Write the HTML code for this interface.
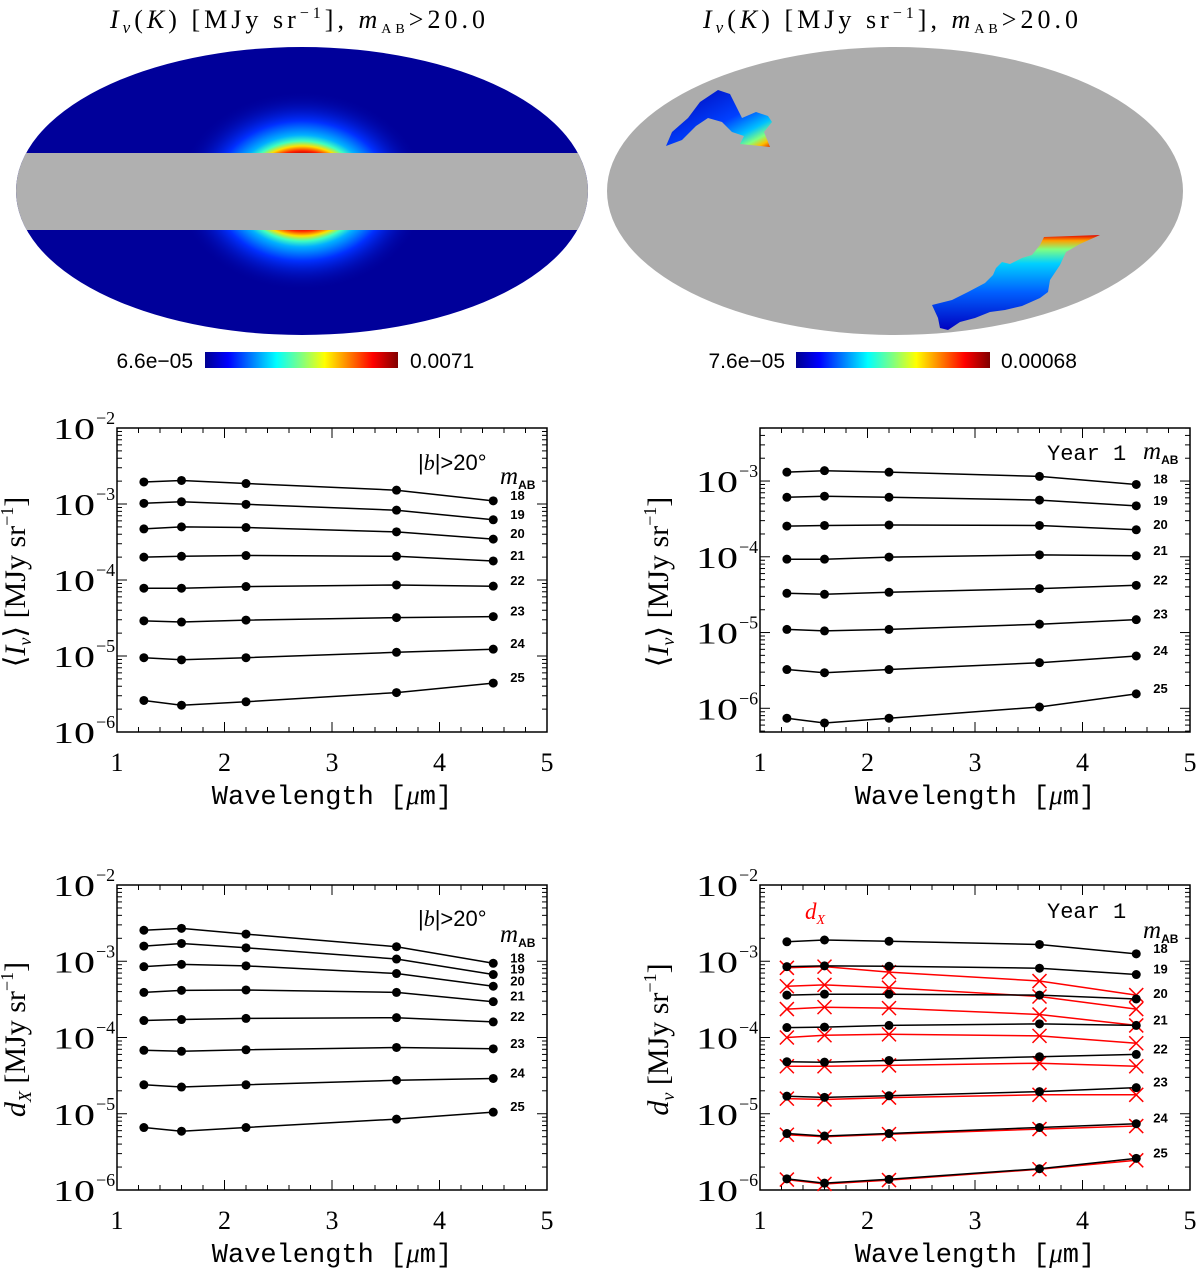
<!DOCTYPE html>
<html><head><meta charset="utf-8">
<style>
html,body{margin:0;padding:0;background:#fff;}
svg{display:block;font-family:"Liberation Serif",serif;}
</style></head>
<body>
<svg id="fig" width="1200" height="1271" viewBox="0 0 1200 1271" xmlns="http://www.w3.org/2000/svg">
<defs>
<linearGradient id="jet" x1="0" x2="1" y1="0" y2="0">
<stop offset="0" stop-color="#00008f"/><stop offset="0.12" stop-color="#0000ff"/><stop offset="0.37" stop-color="#00ffff"/><stop offset="0.5" stop-color="#80ff80"/><stop offset="0.62" stop-color="#ffff00"/><stop offset="0.87" stop-color="#ff0000"/><stop offset="1" stop-color="#800000"/>
</linearGradient>
<radialGradient id="glow" cx="302" cy="191" r="1" gradientUnits="userSpaceOnUse" gradientTransform="translate(302 191) scale(125 100) translate(-302 -191)">
<stop offset="0" stop-color="#800000"/><stop offset="0.36" stop-color="#a00000"/><stop offset="0.4" stop-color="#ff2000"/><stop offset="0.45" stop-color="#ffe000"/><stop offset="0.5" stop-color="#40ffc0"/><stop offset="0.56" stop-color="#00b0ff"/><stop offset="0.7" stop-color="#0030ff"/><stop offset="1" stop-color="#00009a" stop-opacity="0"/>
</radialGradient>
<clipPath id="ellL"><ellipse cx="302" cy="191" rx="286" ry="144"/></clipPath>
<linearGradient id="b1g" x1="0" y1="0" x2="1" y2="1">
<stop offset="0" stop-color="#0000b0"/><stop offset="0.55" stop-color="#0040ff"/><stop offset="0.75" stop-color="#00c0ff"/><stop offset="0.86" stop-color="#80ff80"/><stop offset="0.93" stop-color="#ffc000"/><stop offset="1" stop-color="#e02000"/>
</linearGradient>
<linearGradient id="b2g" x1="0" y1="0" x2="0" y2="1">
<stop offset="0" stop-color="#e00000"/><stop offset="0.06" stop-color="#ffa000"/><stop offset="0.15" stop-color="#80ff80"/><stop offset="0.3" stop-color="#00d0ff"/><stop offset="0.6" stop-color="#0060ff"/><stop offset="1" stop-color="#0000c0"/>
</linearGradient>
</defs>

<!-- Left map -->
<g>
<text x="110" y="28" font-size="26" textLength="375" lengthAdjust="spacing"><tspan font-style="italic">I</tspan><tspan font-style="italic" font-size="17" dy="5">ν</tspan><tspan dy="-5">(</tspan><tspan font-style="italic">K</tspan>) [MJy sr<tspan font-size="16" dy="-10">−1</tspan><tspan dy="10">], </tspan><tspan font-style="italic">m</tspan><tspan font-size="14" dy="5">AB</tspan><tspan dy="-5">&gt;20.0</tspan></text>
<ellipse cx="302" cy="191" rx="286" ry="144" fill="#00009a"/>
<g clip-path="url(#ellL)">
<rect x="0" y="40" width="600" height="300" fill="url(#glow)"/>
<rect x="0" y="153" width="600" height="77" fill="#b0b0b0"/>
</g>
<rect x="205" y="352" width="193" height="16" fill="url(#jet)"/>
<text x="193" y="368" font-size="21" text-anchor="end" font-family="Liberation Sans, sans-serif">6.6e−05</text>
<text x="410" y="368" font-size="21" font-family="Liberation Sans, sans-serif">0.0071</text>
</g>

<!-- Right map -->
<g>
<text x="703" y="28" font-size="26" textLength="375" lengthAdjust="spacing"><tspan font-style="italic">I</tspan><tspan font-style="italic" font-size="17" dy="5">ν</tspan><tspan dy="-5">(</tspan><tspan font-style="italic">K</tspan>) [MJy sr<tspan font-size="16" dy="-10">−1</tspan><tspan dy="10">], </tspan><tspan font-style="italic">m</tspan><tspan font-size="14" dy="5">AB</tspan><tspan dy="-5">&gt;20.0</tspan></text>
<ellipse cx="895" cy="191" rx="288" ry="144" fill="#acacac"/>
<path d="M666,146 L672,132 L688,118 L700,102 L718,90 L730,94 L737,108 L742,118 L756,112 L768,116 L772,122 L764,132 L770,147 L740,144 L744,136 L732,132 L722,122 L708,118 L696,126 L682,140 Z" fill="url(#b1g)"/>
<path d="M1040,245 L1044,237 L1100,235 L1080,244 L1066,252 L1060,265 L1050,280 L1048,292 L1040,298 L1022,306 L1005,310 L990,312 L975,318 L960,322 L948,330 L940,328 L938,318 L932,305 L952,300 L968,292 L985,283 L993,275 L996,268 L1002,262 L1010,264 L1022,258 L1032,255 Z" fill="url(#b2g)"/>
<rect x="796" y="352" width="194" height="16" fill="url(#jet)"/>
<text x="785" y="368" font-size="21" text-anchor="end" font-family="Liberation Sans, sans-serif">7.6e−05</text>
<text x="1001" y="368" font-size="21" font-family="Liberation Sans, sans-serif">0.00068</text>
</g>
<g id="plots"></g>
</svg>
<script>
const wavelengths = [1.25, 1.6, 2.2, 3.6, 4.5];
const magLabels = ["18","19","20","21","22","23","24","25"];
const xTicks = [1,2,3,4,5];

const intensityAll = [
 [1.95e-3,2.04e-3,1.86e-3,1.52e-3,1.10e-3],
 [1.02e-3,1.07e-3,0.99e-3,0.83e-3,0.62e-3],
 [4.7e-4,5.0e-4,4.9e-4,4.3e-4,3.45e-4],
 [2.0e-4,2.05e-4,2.1e-4,2.05e-4,1.78e-4],
 [7.8e-5,7.8e-5,8.2e-5,8.6e-5,8.3e-5],
 [2.9e-5,2.8e-5,2.97e-5,3.2e-5,3.3e-5],
 [9.5e-6,8.9e-6,9.5e-6,1.12e-5,1.23e-5],
 [2.6e-6,2.25e-6,2.5e-6,3.3e-6,4.4e-6]
];
const intensityYear1 = [
 [1.31e-3,1.37e-3,1.31e-3,1.15e-3,0.90e-3],
 [6.1e-4,6.3e-4,6.1e-4,5.6e-4,4.7e-4],
 [2.54e-4,2.59e-4,2.63e-4,2.59e-4,2.27e-4],
 [9.3e-5,9.3e-5,9.9e-5,1.06e-4,1.03e-4],
 [3.3e-5,3.2e-5,3.4e-5,3.8e-5,4.2e-5],
 [1.1e-5,1.05e-5,1.1e-5,1.29e-5,1.48e-5],
 [3.25e-6,2.95e-6,3.25e-6,4.0e-6,4.9e-6],
 [7.4e-7,6.4e-7,7.4e-7,1.04e-6,1.55e-6]
];
const fluctAll = [
 [2.55e-3,2.7e-3,2.27e-3,1.55e-3,0.94e-3],
 [1.58e-3,1.71e-3,1.5e-3,1.07e-3,0.67e-3],
 [8.5e-4,9.1e-4,8.7e-4,6.9e-4,4.7e-4],
 [3.9e-4,4.15e-4,4.2e-4,3.9e-4,2.95e-4],
 [1.67e-4,1.72e-4,1.78e-4,1.82e-4,1.6e-4],
 [6.8e-5,6.6e-5,6.9e-5,7.4e-5,7.1e-5],
 [2.4e-5,2.24e-5,2.4e-5,2.75e-5,2.9e-5],
 [6.6e-6,5.9e-6,6.6e-6,8.5e-6,1.05e-5]
];
const fluctYear1 = [
 [1.8e-3,1.9e-3,1.83e-3,1.66e-3,1.25e-3],
 [8.5e-4,8.7e-4,8.6e-4,8.1e-4,6.7e-4],
 [3.6e-4,3.7e-4,3.7e-4,3.6e-4,3.2e-4],
 [1.35e-4,1.37e-4,1.44e-4,1.51e-4,1.44e-4],
 [4.8e-5,4.75e-5,5.0e-5,5.6e-5,6.0e-5],
 [1.7e-5,1.64e-5,1.72e-5,1.95e-5,2.2e-5],
 [5.5e-6,5.1e-6,5.5e-6,6.6e-6,7.4e-6],
 [1.4e-6,1.23e-6,1.38e-6,1.9e-6,2.6e-6]
];
const fluctYear1X = [
 [8.2e-4,8.5e-4,7.2e-4,5.5e-4,3.6e-4],
 [4.7e-4,4.9e-4,4.5e-4,3.45e-4,2.36e-4],
 [2.36e-4,2.5e-4,2.43e-4,2.0e-4,1.44e-4],
 [1.0e-4,1.07e-4,1.1e-4,1.05e-4,8.4e-5],
 [4.2e-5,4.2e-5,4.3e-5,4.6e-5,4.2e-5],
 [1.58e-5,1.54e-5,1.63e-5,1.77e-5,1.77e-5],
 [5.3e-6,5.0e-6,5.4e-6,6.3e-6,6.9e-6],
 [1.37e-6,1.2e-6,1.35e-6,1.87e-6,2.45e-6]
];

const NS = "http://www.w3.org/2000/svg";
const root = document.getElementById('plots');
function mk(tag, attrs, parent, txt){
  const e = document.createElementNS(NS, tag);
  for (const k in attrs) e.setAttribute(k, attrs[k]);
  if (txt !== undefined) e.textContent = txt;
  (parent||root).appendChild(e);
  return e;
}

function plot(cfg){
  const g = mk('g', {});
  
  
  const L=cfg.left, R=cfg.right, T=cfg.top, B=cfg.bottom;
  const xs = v => L + (v-1)/(5-1)*(R-L);
  const ys = v => T + (cfg.ymax - Math.log10(v))/(cfg.ymax-cfg.ymin)*(B-T);
  const box = mk('rect',{x:L,y:T,width:R-L,height:B-T,fill:'none',stroke:'#000','stroke-width':1.5},g);
  
  
  for (let v=1; v<=5.001; v+=0.2){
    const major = Math.abs(v-Math.round(v))<1e-6;
    const len = major?10:5, x=xs(v);
    mk('line',{x1:x,x2:x,y1:B,y2:B-len,stroke:'#000','stroke-width':1},g);
    mk('line',{x1:x,x2:x,y1:T,y2:T+len,stroke:'#000','stroke-width':1},g);
  }
  xTicks.forEach(v=>{
    const t = mk('text',{x:xs(v),y:B+39,'font-size':26,'text-anchor':'middle'},g,String(v));
    
    
  });
  for (let d=Math.floor(cfg.ymin); d<=Math.ceil(cfg.ymax); d++){
    for (let m=1; m<10; m++){
      const lv = d + Math.log10(m);
      if (lv < cfg.ymin-1e-6 || lv > cfg.ymax+1e-6) continue;
      const y = T + (cfg.ymax-lv)/(cfg.ymax-cfg.ymin)*(B-T);
      const len = m===1?10:5;
      mk('line',{x1:L,x2:L+len,y1:y,y2:y,stroke:'#000','stroke-width':1},g);
      mk('line',{x1:R,x2:R-len,y1:y,y2:y,stroke:'#000','stroke-width':1},g);
      if (m===1){
        const t = mk('text',{x:L-22,y:y+11,'font-size':31,'text-anchor':'end','textLength':42,'lengthAdjust':'spacingAndGlyphs'},g,'10');
        
        
        mk('text',{x:L-21,y:y-4,'font-size':18,'text-anchor':'start'},g,'−'+(-d));
      }
    }
  }
  const xt = mk('text',{x:(L+R)/2,y:B+72,'font-size':27,'text-anchor':'middle','font-family':'Liberation Mono, monospace'},g);
  
  
  xt.innerHTML = 'Wavelength [<tspan font-family="Liberation Serif, serif" font-style="italic">μ</tspan>m]';
  const cy=(T+B)/2+2, cx=L-92;
  const ytl = mk('text',{x:cx,y:cy,'font-size':30,'text-anchor':'middle',transform:`rotate(-90 ${cx} ${cy})`},g);
  
  
  ytl.innerHTML = cfg.ytitle;
  function drawSeries(data, color, marker, sname){
    data.forEach((row,i)=>{
      const pts = row.map((v,j)=>xs(wavelengths[j]).toFixed(1)+','+ys(v).toFixed(1)).join(' ');
      const pl = mk('polyline',{points:pts,fill:'none',stroke:color,'stroke-width':1.5},g);
      
      
      row.forEach((v,j)=>{
        const x=xs(wavelengths[j]), y=ys(v);
        if (marker==='dot'){
          const c = mk('circle',{cx:x,cy:y,r:4.5,fill:color},g);
          
          
        } else {
          const s=7;
          const p = mk('path',{d:`M${x-s},${y-s}L${x+s},${y+s}M${x-s},${y+s}L${x+s},${y-s}`,stroke:color,'stroke-width':1.5,fill:'none'},g);
          
          
        }
      });
    });
  }
  if (cfg.red) drawSeries(cfg.red,'#ff0000','x','dx');
  drawSeries(cfg.data,'#000','dot','main');
  cfg.data.forEach((row,i)=>{
    const t = mk('text',{x:xs(wavelengths[4])+17,y:ys(row[4])-1,'font-size':13,'font-weight':'bold','font-family':'Liberation Sans, sans-serif'},g,magLabels[i]);
    
    
  });
  const mh = mk('text',{x:R-47,y:cfg.mabY,'font-size':25,'font-style':'italic'},g);
  
  
  mh.innerHTML = 'm<tspan font-size="12" font-style="normal" font-weight="bold" font-family="Liberation Sans, sans-serif" dy="5">AB</tspan>';
  const an = mk('text',{x:cfg.annX,y:cfg.annY,'font-size':22,'font-family':cfg.annMono?'Liberation Mono, monospace':'Liberation Sans, sans-serif'},g);
  
  
  an.innerHTML = cfg.ann;
  if (cfg.red){
    const dl = mk('text',{x:L+45,y:T+34,'font-size':23,'font-style':'italic',fill:'#ff0000'},g);
    
    
    dl.innerHTML = 'd<tspan font-size="14" dy="5">X</tspan>';
  }
}

const YT_I = '⟨<tspan font-style="italic">I</tspan><tspan font-style="italic" font-size="18" dy="6">ν</tspan><tspan dy="-6">⟩ [MJy sr</tspan><tspan font-size="18" dy="-12">−1</tspan><tspan dy="12">]</tspan>';
const YT_DX = '<tspan font-style="italic">d</tspan><tspan font-style="italic" font-size="18" dy="6">X</tspan><tspan dy="-6"> [MJy sr</tspan><tspan font-size="18" dy="-12">−1</tspan><tspan dy="12">]</tspan>';
const YT_DN = '<tspan font-style="italic">d</tspan><tspan font-style="italic" font-size="18" dy="6">ν</tspan><tspan dy="-6"> [MJy sr</tspan><tspan font-size="18" dy="-12">−1</tspan><tspan dy="12">]</tspan>';
const BANN = '|<tspan font-style="italic" font-family="Liberation Serif, serif">b</tspan>|&gt;20°';

plot({name:'intensity-all-sky-chart',left:117,right:547,top:428,bottom:732,ymin:-6,ymax:-2,data:intensityAll,ytitle:YT_I,mabY:484,ann:BANN,annX:418,annY:470});
plot({name:'intensity-year1-chart',left:760,right:1190,top:428,bottom:732,ymin:-6.313,ymax:-2.300,data:intensityYear1,ytitle:YT_I,mabY:459,ann:'Year 1',annX:1047,annY:460,annMono:true});
plot({name:'fluctuation-all-sky-chart',left:117,right:547,top:885,bottom:1190,ymin:-6,ymax:-2,data:fluctAll,ytitle:YT_DX,mabY:942,ann:BANN,annX:418,annY:926});
plot({name:'fluctuation-year1-chart',left:760,right:1190,top:885,bottom:1190,ymin:-6,ymax:-2,data:fluctYear1,red:fluctYear1X,ytitle:YT_DN,mabY:938,ann:'Year 1',annX:1047,annY:918,annMono:true});
</script>
</body></html>
